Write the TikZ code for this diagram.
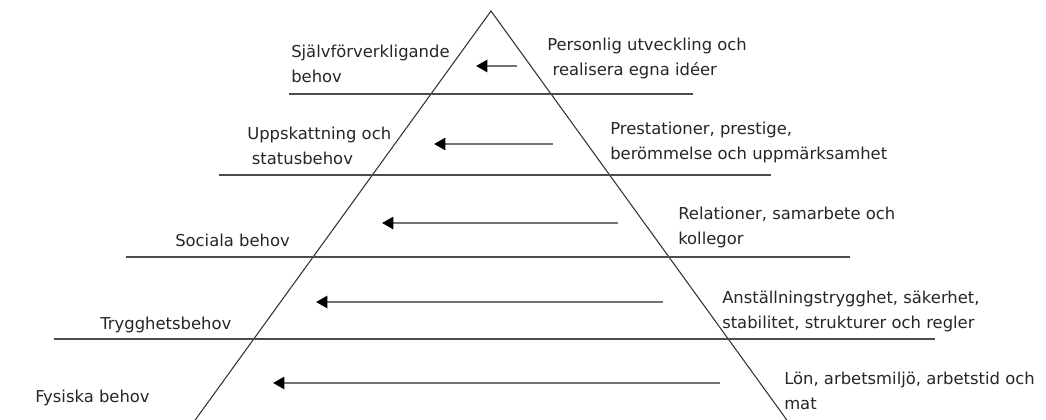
\documentclass[tikz,border=0pt]{standalone}
\usepackage{fontspec}
\setmainfont{DejaVu Sans}
\usetikzlibrary{arrows.meta}
\begin{document}
\begin{tikzpicture}[x=0.75pt,y=-0.75pt,
  lbl/.style={anchor=base west, inner sep=0pt, align=left,
    font=\fontsize{12.3pt}{18.3pt}\selectfont, text=black!85},
  side/.style={line width=0.8pt, black!80},
  level/.style={line width=1.1pt, black!70},
  need/.style={line width=1.9pt, black!55, -{Triangle[length=8.5pt,width=9pt,color=black]}}
]
\useasboundingbox (0,0) rectangle (1046,419);
% triangle
\coordinate (apex) at (491,11);
\coordinate (bl) at (193,423);
\coordinate (br) at (789,423);
\draw[side] (bl) -- (apex) -- (br);
% level lines
\coordinate (l1a) at (289,94);  \coordinate (l1b) at (693,94);
\coordinate (l2a) at (219,175); \coordinate (l2b) at (771,175);
\coordinate (l3a) at (126,257); \coordinate (l3b) at (850,257);
\coordinate (l4a) at (54,339);  \coordinate (l4b) at (935,339);
\draw[level] (l1a) -- (l1b);
\draw[level] (l2a) -- (l2b);
\draw[level] (l3a) -- (l3b);
\draw[level] (l4a) -- (l4b);
% arrows
\coordinate (a1s) at (517,66);  \coordinate (a1e) at (476,66);
\coordinate (a2s) at (553,144); \coordinate (a2e) at (434,144);
\coordinate (a3s) at (618,223); \coordinate (a3e) at (382,223);
\coordinate (a4s) at (663,302); \coordinate (a4e) at (316,302);
\coordinate (a5s) at (720,383); \coordinate (a5e) at (273,383);
\draw[need] (a1s) -- (a1e);
\draw[need] (a2s) -- (a2e);
\draw[need] (a3s) -- (a3e);
\draw[need] (a4s) -- (a4e);
\draw[need] (a5s) -- (a5e);
% labels left
\node[lbl] (n1) at (291,82) {Självförverkligande\\behov};
\node[lbl] (n2) at (247,164) {Uppskattning och\\\hspace*{3.5pt}statusbehov};
\node[lbl] (n3) at (175,246) {Sociala behov};
\node[lbl] (n4) at (100,329) {Trygghetsbehov};
\node[lbl] (n5) at (35,402) {Fysiska behov};
% labels right
\node[lbl] (d1) at (547,75) {Personlig utveckling och\\\hspace*{4pt}realisera egna idéer};
\node[lbl] (d2) at (610,159) {Prestationer, prestige,\\berömmelse och uppmärksamhet};
\node[lbl] (d3) at (678,244) {Relationer, samarbete och\\kollegor};
\node[lbl] (d4) at (722,328) {Anställningstrygghet, säkerhet,\\stabilitet, strukturer och regler};
\node[lbl] (d5) at (784,409) {Lön, arbetsmiljö, arbetstid och\\mat};
\end{tikzpicture}
\end{document}
